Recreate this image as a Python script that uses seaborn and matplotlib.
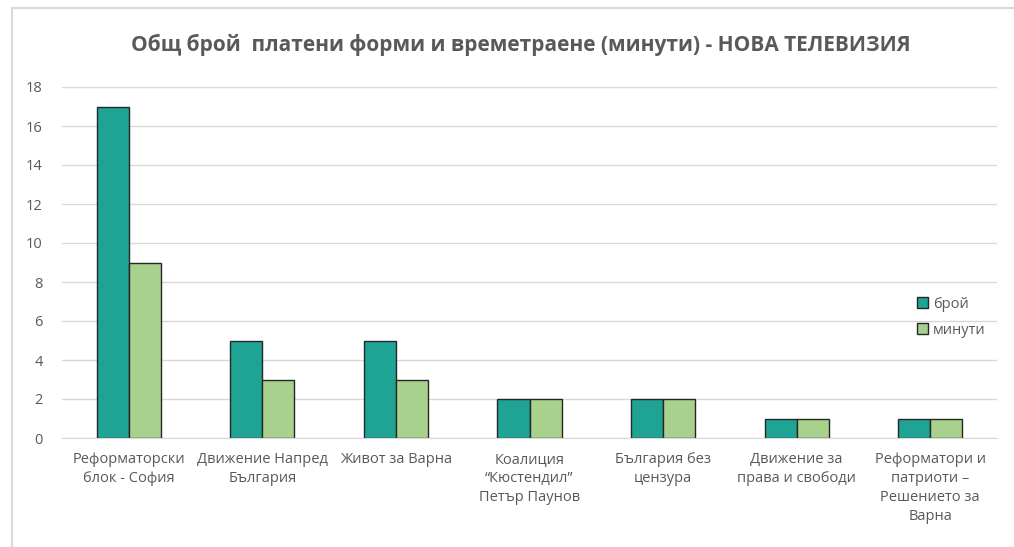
import pandas as pd
import matplotlib
matplotlib.use("Agg")
import matplotlib.pyplot as plt
from matplotlib.patches import Rectangle
import seaborn as sns

# chart data
categories = [
    "Реформаторски\nблок - София",
    "Движение Напред\nБългария",
    "Живот за Варна",
    "Коалиция\n\u201cКюстендил\u201d\nПетър Паунов",
    "България без\nцензура",
    "Движение за\nправа и свободи",
    "Реформатори и\nпатриоти \u2013\nРешението за\nВарна",
]
count_values = [17, 5, 5, 2, 2, 1, 1]
minute_values = [9, 3, 3, 2, 2, 1, 1]
series_names = ["брой", "минути"]
palette = ["#1FA394", "#A9D18E"]

df = pd.DataFrame({
    "category": categories * 2,
    "series": [series_names[0]] * len(categories) + [series_names[1]] * len(categories),
    "value": count_values + minute_values,
})

sns.set_style("white")
plt.rcParams["font.family"] = ["Open Sans", "DejaVu Sans"]

fig = plt.figure(figsize=(10.14, 5.47), dpi=100)
ax = fig.add_axes([62 / 1014, 1 - 438 / 547, (997 - 62) / 1014, (438 - 87) / 547])

sns.barplot(data=df, x="category", y="value", hue="series", palette=palette,
            saturation=1, width=0.48, edgecolor="#262626", linewidth=1.0,
            ax=ax, legend=True)

ax.set_ylim(0, 18)
ax.set_yticks(range(0, 19, 2))
ax.grid(axis="y", color="#d9d9d9", linewidth=1)
ax.set_axisbelow(True)
for s in ["top", "right", "left"]:
    ax.spines[s].set_visible(False)
ax.spines["bottom"].set_color("#d9d9d9")
ax.tick_params(axis="both", length=0, colors="#595959", labelsize=10.5)
ax.tick_params(axis="x", pad=10)
ax.tick_params(axis="y", pad=14)
for lbl in ax.get_xticklabels():
    lbl.set_linespacing(1.38)
ax.set_xlabel("")
ax.set_ylabel("")

ax.legend(loc="upper left", bbox_to_anchor=(0.9, 0.44), frameon=False,
          handlelength=0.8, handleheight=0.8, handletextpad=0.3,
          labelspacing=0.75, fontsize=10.5, labelcolor="#595959")

fig.text(0.514, 1 - 45 / 547, "Общ брой  платени форми и времетраене (минути) - НОВА ТЕЛЕВИЗИЯ",
         ha="center", va="center", fontsize=15, fontweight="bold", color="#595959")

fig.patches.append(Rectangle((12 / 1014, -0.01), 1.0, 1 - 8 / 547 + 0.01,
                             transform=fig.transFigure, fill=False,
                             edgecolor="#d9d9d9", linewidth=1.5))

fig.savefig("out.png", dpi=100)
